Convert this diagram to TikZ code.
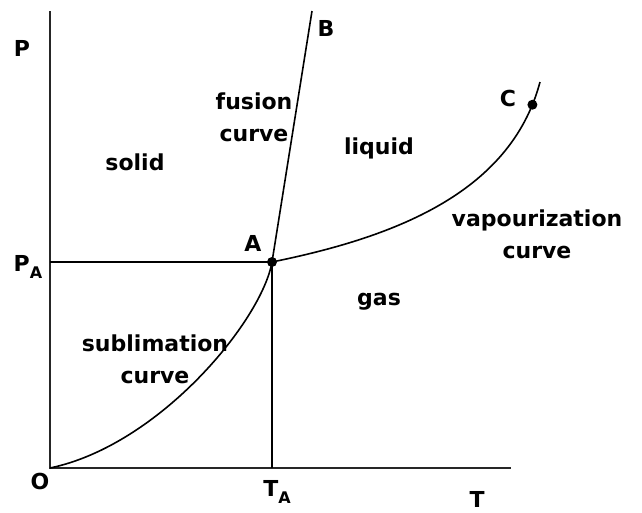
\documentclass[tikz,border=0pt]{standalone}
\usepackage{fontspec}
\setmainfont{DejaVu Sans}
\usepackage{tikz}
\usetikzlibrary{positioning,calc}

\newcommand{\lowidx}[1]{\raisebox{-0.55ex}{\fontsize{16}{16}\selectfont #1}}

\begin{document}
\begin{tikzpicture}[
  x=1pt, y=-1pt,
  axis/.style={line width=1.9pt, draw=black!85},
  crv/.style={line width=1.6pt},
  guide/.style={line width=1.5pt},
  lbl/.style={inner sep=0pt, align=center,
    font=\bfseries\fontsize{22}{32}\selectfont},
  dot/.style={circle, fill=black, inner sep=0pt, minimum size=10pt},
]
\useasboundingbox (0,0) rectangle (642,512);

%% axes
\coordinate (O) at (50,468);
\coordinate (Ptop) at (50,11);
\coordinate (Tend) at (511,468);
\draw[axis] (Ptop) -- (O) -- (Tend);

%% triple point and curves
\coordinate (A) at (272,262);
\coordinate (B) at (312,11);
\coordinate (Cend) at (540,82);

\draw[guide] (A) -- (A -| O);
\draw[guide] (A) -- (A |- O);

\draw[crv] (O) .. controls (160,445) and (262,320) .. (A);
\draw[crv] (A) -- (B);
\draw[crv] (A) .. controls (390,238) and (510,195) .. (Cend)
  node[dot, pos=0.93] (C) {};
\node[dot] at (A) {};

%% point labels
\node[lbl] (Alab) at (253,243) {A};
\node[lbl] (Blab) at (326,28) {B};
\node[lbl] (Clab) at (508,98) {C};
\node[lbl] (Olab) at (40,481) {O};
\node[lbl] (Plab) at (22,48) {P};
\node[lbl] (PAlab) at (28,267) {P\lowidx{A}};
\node[lbl] (TAlab) at (277,492) {T\lowidx{A}};
\node[lbl] (Tlab) at (477,499) {T};

%% regions
\node[lbl] (solid) at (135,162) {solid};
\node[lbl] (liquid) at (379,148) {liquid};
\node[lbl] (gas) at (379,302) {gas};
\node[lbl] (fus) at (254,117) {fusion\\curve};
\node[lbl] (vap) at (537,234) {vapourization\\curve};
\node[lbl] (sub) at (155,359) {sublimation\\curve};
\end{tikzpicture}
\end{document}
